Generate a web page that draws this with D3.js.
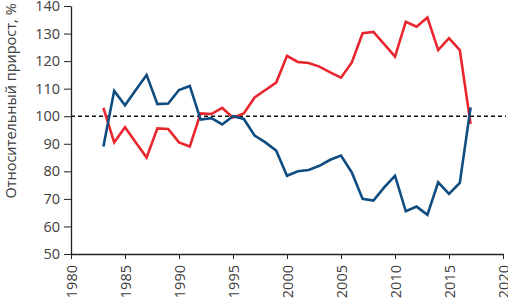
<!DOCTYPE html>
<html>
<head>
<meta charset="utf-8">
<script src="https://cdn.jsdelivr.net/npm/d3@7"></script>
<style>
  body { margin: 0; background: #fff; }
  text { font-family: "Open Sans", sans-serif; fill: #404040; }
</style>
</head>
<body>
<div id="chart"></div>
<script>
var years = d3.range(1983, 2018);
var redValues = [103, 90.5, 96, 90.5, 85, 95.6, 95.4, 90.5, 89, 101, 100.8, 103, 99.5, 101,
  106.8, 109.5, 112.2, 121.9, 119.7, 119.3, 118, 115.9, 114, 119.5, 130.1, 130.6, 126.2,
  121.6, 134.3, 132.5, 135.8, 124, 128.3, 124, 97.2];
var blueValues = [89, 109.2, 104, 109.5, 115, 104.4, 104.6, 109.5, 111, 98.8, 99.3, 97, 100, 99,
  93, 90.5, 87.5, 78.4, 80, 80.5, 82, 84.2, 85.7, 79.6, 70, 69.4, 74.2,
  78.4, 65.5, 67.2, 64.2, 76, 71.8, 75.8, 103.2];
var xTicks = [1980, 1985, 1990, 1995, 2000, 2005, 2010, 2015, 2020];
var yTicks = [50, 60, 70, 80, 90, 100, 110, 120, 130, 140];
var yLabel = 'Относительный прирост, %';

var width = 508, height = 303,
  margin = { top: 6, right: 5, bottom: 49, left: 71 };

var x = d3.scaleLinear().domain([1980, 2020]).range([margin.left, width - margin.right]);
var y = d3.scaleLinear().domain([50, 140]).range([height - margin.bottom, margin.top]);

var svg = d3.select('#chart').append('svg')
  .attr('width', width)
  .attr('height', height);

// baseline at 100
svg.append('line')
  .attr('x1', margin.left).attr('x2', width - 2)
  .attr('y1', y(100)).attr('y2', y(100))
  .style('stroke', '#111')
  .style('stroke-width', 1.4)
  .style('stroke-dasharray', '4,3');

var line = d3.line()
  .x(function (d) { return x(d[0]); })
  .y(function (d) { return y(d[1]); });

svg.append('path')
  .datum(d3.zip(years, redValues))
  .attr('d', line)
  .style('fill', 'none')
  .style('stroke', '#e8262e')
  .style('stroke-width', 2.6)
  .style('stroke-linejoin', 'miter');

svg.append('path')
  .datum(d3.zip(years, blueValues))
  .attr('d', line)
  .style('fill', 'none')
  .style('stroke', '#0f4d80')
  .style('stroke-width', 2.6)
  .style('stroke-linejoin', 'miter');

var yAxis = svg.append('g')
  .attr('transform', 'translate(' + margin.left + ',0)')
  .call(d3.axisLeft(y).tickValues(yTicks).tickSize(7).tickPadding(4).tickSizeOuter(0));

var xAxis = svg.append('g')
  .attr('transform', 'translate(0,' + (height - margin.bottom) + ')')
  .call(d3.axisBottom(x).tickValues(xTicks).tickFormat(d3.format('d')).tickSize(5).tickSizeOuter(0));

[yAxis, xAxis].forEach(function (ax) {
  ax.select('.domain').style('stroke', '#222').style('stroke-width', 1.3);
  ax.selectAll('.tick line').style('stroke', '#222').style('stroke-width', 1);
  ax.selectAll('text').style('font-size', '14.5px').style('fill', '#404040');
});

xAxis.selectAll('text')
  .attr('transform', 'rotate(-90)')
  .attr('text-anchor', 'end')
  .attr('dy', '0.36em')
  .attr('x', -11)
  .attr('y', 0);

svg.append('text')
  .attr('transform', 'translate(11,' + 101 + ') rotate(-90)')
  .attr('text-anchor', 'middle')
  .attr('dy', '0.35em')
  .style('font-size', '14.5px')
  .text(yLabel);
</script>
</body>
</html>
